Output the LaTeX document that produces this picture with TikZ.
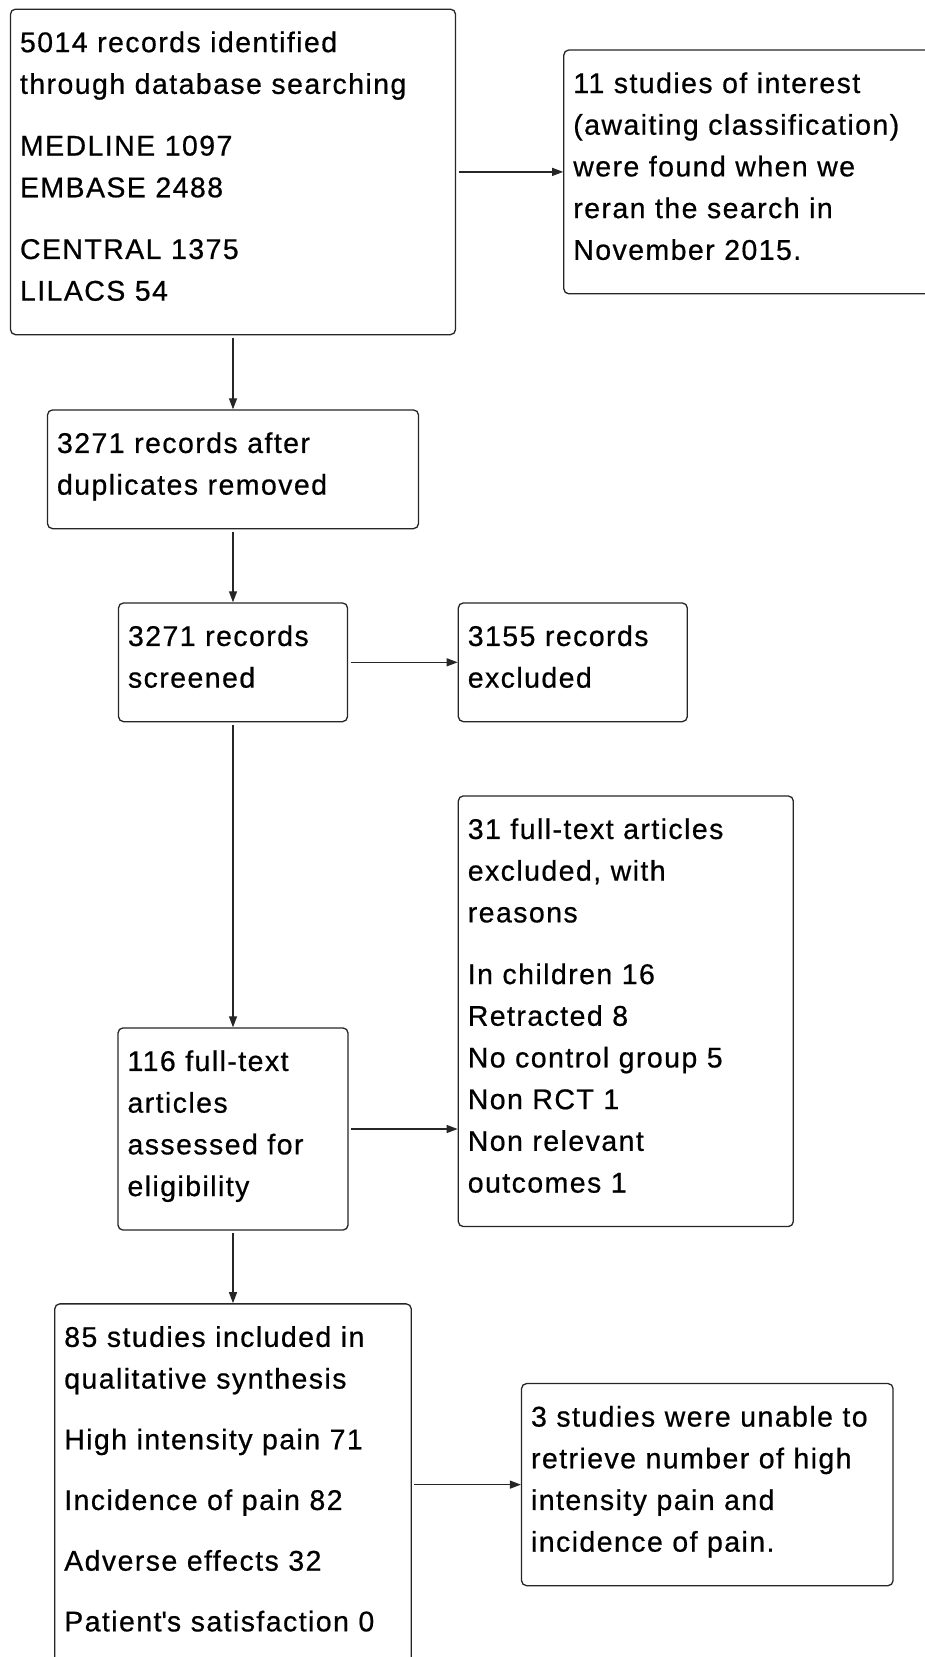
\documentclass[tikz,border=0pt]{standalone}
\usepackage{fontspec}
\setmainfont{Liberation Sans}[LetterSpace=5, FakeBold=0.6]
\usetikzlibrary{arrows.meta, positioning}

\begin{document}
\begin{tikzpicture}[
    node distance=74pt,
    box/.style={draw=black!85, line width=1.3pt, rounded corners=5pt, fill=white, align=left,
        inner xsep=9.5pt, inner ysep=0pt, font=\fontsize{28.5}{41.7}\selectfont,
        execute at begin node={\rule{0pt}{43pt}}, execute at end node={\rule[-34pt]{0pt}{34pt}}},
    arrow/.style={-{Triangle[length=11pt, width=8pt]}, line width=1.3pt, draw=black!85, shorten <=2.5pt}
]
\useasboundingbox (0,0) rectangle (924pt,-1657pt);

% left column
\node[box, text width=426pt, anchor=north] (search) at (233pt,-8.5pt)
    {5014 records identified\\through database searching\\[20pt]MEDLINE 1097\\EMBASE 2488\\[20pt]CENTRAL 1375\\LILACS 54};
\node[box, text width=352pt, below=74pt of search] (dupl) {3271 records after\\duplicates removed};
\node[box, text width=210pt, below=73pt of dupl] (screen) {3271 records\\screened};
\node[box, text width=211pt, below=305pt of screen] (elig) {116 full-text\\articles\\assessed for\\eligibility};
\node[box, text width=337.5pt, below=72.5pt of elig] (incl)
    {85 studies included in\\qualitative synthesis\\[19pt]High intensity pain 71\\[19pt]Incidence of pain 82\\[19pt]Adverse effects 32\\[19pt]Patient\textquotesingle s satisfaction 0};

% right column
\node[box, text width=353pt, right=107pt of search] (notes)
    {11 studies of interest\\(awaiting classification)\\were found when we\\reran the search in\\November 2015.};
\node[box, text width=210pt, right=109.5pt of screen] (excl) {3155 records\\excluded};
\node[box, text width=316pt, anchor=north west] (ftexcl) at ([yshift=-73pt]excl.south west)
    {31 full-text articles\\excluded, with\\reasons\\[20pt]In children 16\\Retracted 8\\No control group 5\\Non RCT 1\\Non relevant\\outcomes 1};
\node[box, text width=352.5pt, right=109pt of incl] (unable)
    {3 studies were unable to\\retrieve number of high\\intensity pain and\\incidence of pain.};

\draw[arrow] (search.south) -- (dupl.north);
\draw[arrow] (dupl.south) -- (screen.north);
\draw[arrow] (screen.south) -- (elig.north);
\draw[arrow] (elig.south) -- (incl.north);
\draw[arrow] (search.east) -- (notes.west);
\draw[arrow] (screen.east) -- (excl.west);
\draw[arrow] (elig.east) -- (elig.east -| ftexcl.west);
\draw[arrow] (incl.east) -- (unable.west);
\end{tikzpicture}
\end{document}
